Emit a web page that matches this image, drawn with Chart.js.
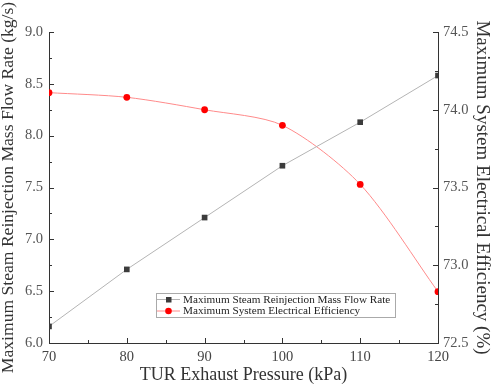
<!DOCTYPE html>
<html>
<head>
<meta charset="utf-8">
<script src="https://cdn.jsdelivr.net/npm/chart.js@4.4.0/dist/chart.umd.min.js"></script>
<style>
html, body { margin: 0; padding: 0; background: #fff; }
</style>
</head>
<body>
<canvas id="chart" width="491" height="385"></canvas>
<script>
// Data
const pressures = [70, 80, 90, 100, 110, 120];           // TUR exhaust pressure (kPa)
const flowRate = [6.16, 6.71, 7.21, 7.71, 8.13, 8.58];   // kg/s, left axis
const efficiency = [74.11, 74.08, 74.00, 73.90, 73.52, 72.83]; // %, right axis

const seriesNames = [
    "Maximum Steam Reinjection Mass Flow Rate",
    "Maximum System Electrical Efficiency"
];
const xTitle = "TUR Exhaust Pressure (kPa)";
const yLeftTitle = "Maximum Steam Reinjection Mass Flow Rate (kg/s)";
const yRightTitle = "Maximum System Electrical Efficiency (%)";

const serif = "'Liberation Serif', 'Times New Roman', serif";
const tickFont = { family: serif, size: 14.5 };

// inward major + minor ticks, like the original plot
const innerTicks = {
    id: "innerTicks",
    afterDatasetsDraw(chart) {
        const ctx = chart.ctx;
        const area = chart.chartArea;
        ctx.save();
        ctx.strokeStyle = "#333";
        ctx.lineWidth = 1;
        const draw = (scale, side) => {
            const vals = scale.ticks.map(t => t.value);
            const step = vals[1] - vals[0];
            const all = [];
            vals.forEach(v => all.push([v, 5]));
            for (let i = 0; i < vals.length - 1; i++) all.push([vals[i] + step / 2, 3]);
            all.forEach(([v, len]) => {
                const p = Math.round(scale.getPixelForValue(v)) + 0.5;
                ctx.beginPath();
                if (side === "bottom") { ctx.moveTo(p, area.bottom); ctx.lineTo(p, area.bottom - len); }
                if (side === "left") { ctx.moveTo(area.left, p); ctx.lineTo(area.left + len, p); }
                if (side === "right") { ctx.moveTo(area.right, p); ctx.lineTo(area.right - len, p); }
                ctx.stroke();
            });
        };
        draw(chart.scales.x, "bottom");
        draw(chart.scales.y, "left");
        draw(chart.scales.y2, "right");
        ctx.restore();
    }
};

// legend box inside the plot area
const boxLegend = {
    id: "boxLegend",
    afterDraw(chart) {
        const ctx = chart.ctx;
        const x0 = 156, y0 = 293, w = 239, h = 24;
        ctx.save();
        ctx.fillStyle = "#fff";
        ctx.fillRect(x0, y0, w, h);
        ctx.strokeStyle = "#aaa";
        ctx.lineWidth = 1;
        ctx.strokeRect(x0 + 0.5, y0 + 0.5, w, h);
        ctx.font = "11.2px " + serif;
        ctx.textBaseline = "middle";
        chart.data.datasets.forEach((ds, i) => {
            const cy = y0 + 6.5 + i * 11.5;
            ctx.strokeStyle = ds.borderColor;
            ctx.beginPath();
            ctx.moveTo(x0 + 1, cy);
            ctx.lineTo(x0 + 24, cy);
            ctx.stroke();
            ctx.fillStyle = ds.pointBackgroundColor;
            if (ds.pointStyle === "rect") {
                ctx.fillRect(x0 + 10, cy - 2.5, 5.5, 5.5);
            } else {
                ctx.beginPath();
                ctx.arc(x0 + 12.5, cy, 3.3, 0, Math.PI * 2);
                ctx.fill();
            }
            ctx.fillStyle = "#222";
            ctx.fillText(ds.label, x0 + 27, cy + 0.5);
        });
        ctx.restore();
    }
};

new Chart(document.getElementById("chart"), {
    type: "line",
    data: {
        labels: pressures,
        datasets: [
            {
                label: seriesNames[0],
                data: pressures.map((p, i) => ({ x: p, y: flowRate[i] })),
                yAxisID: "y",
                borderColor: "#b4b4b4",
                borderWidth: 1,
                pointStyle: "rect",
                pointRadius: 4,
                pointBackgroundColor: "#3c3c3c",
                pointBorderColor: "#3c3c3c",
                pointBorderWidth: 0,
                tension: 0
            },
            {
                label: seriesNames[1],
                data: pressures.map((p, i) => ({ x: p, y: efficiency[i] })),
                yAxisID: "y2",
                borderColor: "#ff8a8a",
                borderWidth: 1,
                pointStyle: "circle",
                pointRadius: 3.4,
                pointBackgroundColor: "#ff0000",
                pointBorderColor: "#ff0000",
                pointBorderWidth: 0,
                tension: 0.28
            }
        ]
    },
    options: {
        responsive: false,
        animation: false,
        devicePixelRatio: 1,
        layout: { padding: { top: 32, left: 0, right: 0, bottom: 0 } },
        plugins: {
            legend: { display: false },
            tooltip: { enabled: false }
        },
        scales: {
            x: {
                type: "linear",
                min: 70,
                max: 120,
                ticks: { stepSize: 10, font: tickFont, color: "#444", padding: 5, maxRotation: 0 },
                grid: { display: false, drawTicks: false },
                border: { display: true, color: "#333", width: 1 },
                title: { display: true, text: xTitle, font: { family: serif, size: 18, lineHeight: 1 }, color: "#333", padding: { top: 0, bottom: 1 } },
                afterFit: s => { s.height = 42; }
            },
            y: {
                position: "left",
                min: 6,
                max: 9,
                ticks: { stepSize: 0.5, font: tickFont, color: "#555", padding: 6, callback: v => v.toFixed(1) },
                grid: { display: false, drawTicks: false },
                border: { display: true, color: "#333", width: 1 },
                title: { display: true, text: yLeftTitle, font: { family: serif, size: 17.6, lineHeight: 1 }, color: "#333", padding: 0 },
                afterFit: s => { s.width = 49; }
            },
            y2: {
                position: "right",
                min: 72.5,
                max: 74.5,
                ticks: { stepSize: 0.5, font: tickFont, color: "#555", padding: 5, callback: v => v.toFixed(1) },
                grid: { display: false, drawTicks: false },
                border: { display: true, color: "#333", width: 1 },
                title: { display: true, text: yRightTitle, font: { family: serif, size: 19, lineHeight: 1 }, color: "#333", padding: 0 },
                afterFit: s => { s.width = 53; }
            }
        }
    },
    plugins: [innerTicks, boxLegend]
});
</script>
</body>
</html>
